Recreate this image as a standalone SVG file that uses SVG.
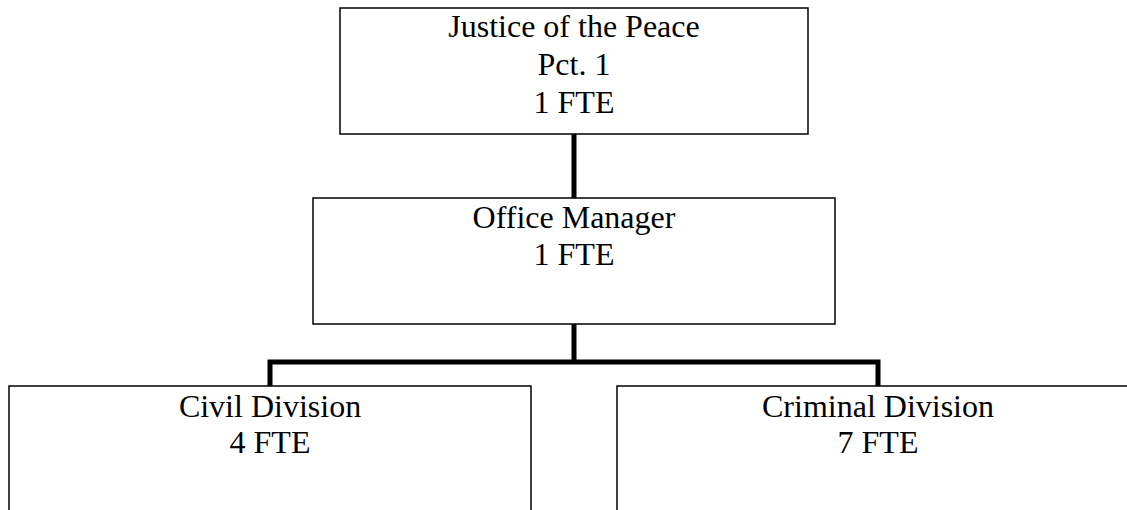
<svg xmlns="http://www.w3.org/2000/svg" width="1127" height="510" viewBox="0 0 1127 510">
  <style>
    .box { fill: #ffffff; stroke: #000000; stroke-width: 1.5; }
    .link { fill: none; stroke: #000000; stroke-width: 5; stroke-linejoin: miter; stroke-linecap: butt; }
    .label { font-family: "Liberation Serif", "Times New Roman", serif; font-size: 32px; fill: #000000; text-anchor: middle; }
  </style>
  <rect width="1127" height="510" fill="#ffffff"/>

  <!-- reporting lines -->
  <g id="connectors">
    <path class="link" d="M574 134 V198"/>
    <path class="link" d="M574 324 V362"/>
    <path class="link" d="M270 386 V362 H878 V386"/>
  </g>

  <g id="justice">
    <rect class="box" x="340" y="8" width="468" height="126"/>
    <text class="label" x="574" y="37">Justice of the Peace</text>
    <text class="label" x="574" y="75">Pct. 1</text>
    <text class="label" x="574" y="113">1 FTE</text>
  </g>

  <g id="office-manager">
    <rect class="box" x="313" y="198" width="522" height="126"/>
    <text class="label" x="574" y="228">Office Manager</text>
    <text class="label" x="574" y="265">1 FTE</text>
  </g>

  <g id="civil">
    <rect class="box" x="9" y="386" width="522" height="140"/>
    <text class="label" x="270" y="417">Civil Division</text>
    <text class="label" x="270" y="453">4 FTE</text>
  </g>

  <g id="criminal">
    <rect class="box" x="617" y="386" width="522" height="140"/>
    <text class="label" x="878" y="417">Criminal Division</text>
    <text class="label" x="878" y="453">7 FTE</text>
  </g>
</svg>
